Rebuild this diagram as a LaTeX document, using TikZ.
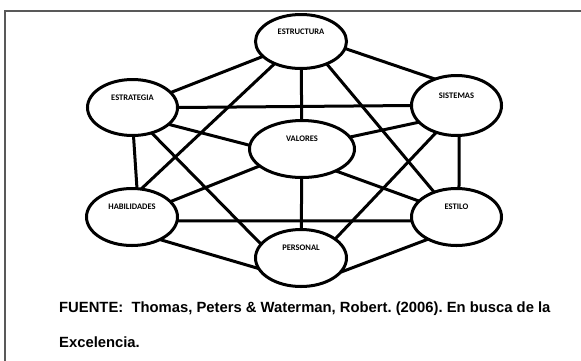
\documentclass[tikz,border=0pt]{standalone}
\usepackage{fontspec}
\setmainfont{Liberation Sans}
\newfontfamily\carlito{Carlito}
\usetikzlibrary{shapes.geometric}
\frenchspacing

\begin{document}
\begin{tikzpicture}[x=1pt,y=-1pt,
    ell/.style={ellipse,draw,line width=3pt,fill=white,outer sep=0pt,
        minimum width=91pt,minimum height=57pt,text height=6pt,text depth=21pt,
        font=\carlito\bfseries\fontsize{8.5}{10}\selectfont},
    link/.style={line width=3pt},
    cita/.style={anchor=base west,inner sep=0pt,font=\bfseries\fontsize{14.8}{17}\selectfont}]
    \useasboundingbox (0,0) rectangle (581,360);
    \draw[black!65,line width=1.3pt] (5,366) -- (5,11) -- (587,11);

    \node[ell,minimum height=54pt] (estructura) at (301,41.5) {ESTRUCTURA};
    \node[ell,minimum width=90pt,minimum height=56pt] (estrategia) at (132.5,107.5) {ESTRATEGIA};
    \node[ell,minimum width=90pt,minimum height=60pt] (sistemas) at (456.5,105.5) {SISTEMAS};
    \node[ell,minimum width=105pt] (valores) at (302,149) {VALORES};
    \node[ell] (habilidades) at (132,217) {HABILIDADES};
    \node[ell,minimum width=90pt] (estilo) at (456.5,217) {ESTILO};
    \node[ell] (personal) at (301,258) {PERSONAL};

    \draw[link] (estrategia) -- (estructura);
    \draw[link] (estructura.-9) -- (sistemas.129);
    \draw[link] (estructura) -- (valores);
    \draw[link] (estructura.220) -- (habilidades.72);
    \draw[link] (estructura.-41) -- (estilo.132);
    \draw[link] (estrategia.east) -- (sistemas.west);
    \draw[link] (estrategia.-25) -- (valores.176);
    \draw[link] (estrategia.-53) -- (personal.161);
    \draw[link] (estrategia.-88) -- (habilidades.80);
    \draw[link] (valores.14) -- (sistemas.204);
    \draw[link] (sistemas.233) -- (personal.29);
    \draw[link] (sistemas.-85) -- (estilo.85);
    \draw[link] (valores.-33) -- (estilo.157);
    \draw[link] (valores) -- (habilidades);
    \draw[link] (valores) -- (personal);
    \draw[link] (habilidades.-5) -- (estilo.185);
    \draw[link] (habilidades.-39) -- (personal.194);
    \draw[link] (personal.-20) -- (estilo.218);

    \node[cita] (fuente) at (59,312) {FUENTE:\ \ Thomas, Peters \& Waterman, Robert. (2006). En busca de la};
    \node[cita] (excelencia) at (59,347) {Excelencia.};
\end{tikzpicture}
\end{document}
